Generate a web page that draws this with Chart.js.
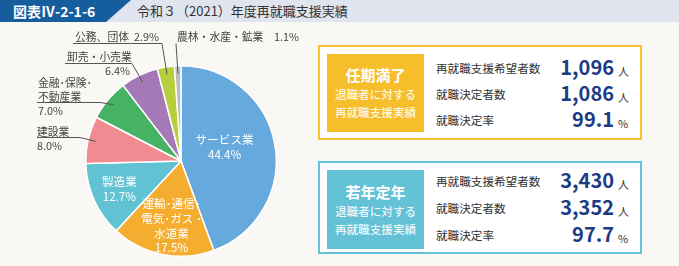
<!DOCTYPE html>
<html>
<head>
<meta charset="utf-8">
<script src="https://cdn.jsdelivr.net/npm/chart.js@4.4.1/dist/chart.umd.min.js"></script>
<style>
  body { margin: 0; background: #f9f8f4; font-family: "Noto Sans CJK JP", "Noto Sans", sans-serif; }
  #page { position: relative; width: 679px; height: 266px; overflow: hidden; background: #f9f8f4; }
  .band { position: absolute; left: 0; top: 0; width: 679px; height: 22px; background: #dfe4ef; }
  .tag { position: absolute; left: 0; top: 0; width: 131px; height: 22px; background: #155d9c;
         clip-path: polygon(0 0, 131px 0, 106px 22px, 0 22px); }
  .tag span { position: absolute; left: 13px; top: 2px; color: #fff; font-weight: bold; font-size: 14px; line-height: 18px; }
  .title { position: absolute; left: 137px; top: 2px; font-size: 13px; line-height: 18px; color: #333; }
  #pieWrap { position: absolute; left: 0; top: 24px; width: 310px; height: 242px; }
  .box { position: absolute; left: 318px; width: 320px; background: #fff; border: 2px solid; }
  .badge { position: absolute; left: 7px; top: 7px; width: 97px; color: #fff; text-align: center; }
  .badge b { display: block; font-size: 15px; line-height: 20px; }
  .badge div { font-size: 11.6px; line-height: 18px; }
  .row { position: absolute; left: 116px; width: 200px; height: 24px; }
  .row .lab { position: absolute; left: 0; top: 4px; font-size: 11.6px; line-height: 16px; color: #333; }
  .row .num { position: absolute; right: 22px; top: -1px; font-size: 20px; line-height: 24px; font-weight: bold; color: #1b3c84; }
  .row .unit { position: absolute; left: 182px; top: 7px; font-size: 11px; line-height: 16px; color: #333; }
</style>
</head>
<body>
<div id="page">
  <div class="band"></div>
  <div class="tag"><span>図表Ⅳ-2-1-6</span></div>
  <div class="title">令和３（2021）年度再就職支援実績</div>
  <div id="pieWrap"><canvas id="pie"></canvas></div>
  <div class="box" id="box1" style="top:45px;height:91px;border-color:#f7c232;"></div>
  <div class="box" id="box2" style="top:161px;height:89px;border-color:#62c3dc;"></div>
</div>
<script>
// 業種別 再就職先の割合 (%)
var categories = ['サービス業', '運輸・通信・電気・ガス・水道業', '製造業', '建設業',
                  '金融・保険・不動産業', '卸売・小売業', '公務、団体', '農林・水産・鉱業'];
var shares = [44.4, 17.5, 12.7, 8.0, 7.0, 6.4, 2.9, 1.1];
var colors = ['#66a9dc', '#f5ad2f', '#61c2d3', '#ef8b91', '#46b364', '#a579b6', '#b6d03c', '#b9bdbd'];

// how the names are broken into lines on the chart
var nameLines = [['サービス業'], ['運輸･通信･', '電気･ガス ･', '水道業'], ['製造業'], ['建設業'],
                 ['金融･保険･', '不動産業'], ['卸売・小売業'], ['公務、団体'], ['農林・水産・鉱業']];

// 再就職支援実績
var statLabels = ['再就職支援希望者数', '就職決定者数', '就職決定率'];
var statUnits = ['人', '人', '%'];
var retireStats = [1096, 1086, 99.1];   // 任期満了退職者
var youngStats = [3430, 3352, 97.7];    // 若年定年退職者

function fmt(v, i) {
    return i === 2 ? v.toFixed(1) : v.toLocaleString('en-US');
}

function buildBox(id, title, color, stats, badgeH, rowTops) {
    var box = document.getElementById(id);
    var html = '<div class="badge" style="height:' + badgeH + 'px;background:' + color + ';">' +
        '<div style="height:' + Math.round((badgeH - 56) / 2) + 'px"></div>' +
        '<b>' + title + '</b><div>退職者に対する</div><div>再就職支援実績</div></div>';
    for (var i = 0; i < stats.length; i++) {
        html += '<div class="row" style="top:' + rowTops[i] + 'px">' +
            '<span class="lab">' + statLabels[i] + '</span>' +
            '<span class="num">' + fmt(stats[i], i) + '</span>' +
            '<span class="unit">' + statUnits[i] + '</span></div>';
    }
    box.innerHTML = html;
}
buildBox('box1', '任期満了', '#f7be2c', retireStats, 78, [9, 35, 61]);
buildBox('box2', '若年定年', '#64c2d7', youngStats, 79, [6, 33, 60]);

// label placement for the pie (inside: [radial factor, angle nudge in deg]; outside: text + leader elbow)
var insideLabels = { 0: [0.48, -7.5], 1: [0.69, -3], 2: [0.71, 0] };
var outsideLabels = {
    3: { x: 37, y: 108, under: [37, 80], elbow: [80, 113], pct: 'below' },
    4: { x: 38, y: 59, under: [37, 100], elbow: [100, 78], pct: 'below' },
    5: { x: 67, y: 33, under: [65, 132], elbow: [132, 39], pct: 'belowRight' },
    6: { x: 75, y: 13, under: [73, 162], elbow: [162, 19], pct: 'inline' },
    7: { x: 177, y: 13, under: [176, 302], elbow: [176, 19], pct: 'inline' }
};

var labelPlugin = {
    id: 'pieLabels',
    afterDatasetsDraw: function (chart) {
        var ctx = chart.ctx;
        var arcs = chart.getDatasetMeta(0).data;
        ctx.save();
        ctx.textBaseline = 'middle';
        arcs.forEach(function (arc, i) {
            var p = arc.getProps(['x', 'y', 'startAngle', 'endAngle', 'outerRadius'], true);
            var mid = (p.startAngle + p.endAngle) / 2;
            var pct = shares[i].toFixed(1) + '%';
            if (insideLabels[i] !== undefined) {
                var r = p.outerRadius * insideLabels[i][0];
                var a = mid + insideLabels[i][1] * Math.PI / 180;
                var cx = p.x + Math.cos(a) * r, cy = p.y + Math.sin(a) * r;
                var lines = nameLines[i].concat([pct]);
                var lh = 14.7;
                ctx.fillStyle = '#fff';
                ctx.font = '11.6px "Noto Sans CJK JP"';
                ctx.textAlign = 'center';
                lines.forEach(function (t, k) {
                    ctx.fillText(t, cx, cy + (k - (lines.length - 1) / 2) * lh);
                });
                return;
            }
            var o = outsideLabels[i];
            ctx.fillStyle = '#444';
            ctx.font = '10.8px "Noto Sans CJK JP"';
            ctx.textAlign = 'left';
            var lh2 = 14;
            var n = nameLines[i].length;
            if (o.pct === 'inline') {
                ctx.fillText(nameLines[i][0], o.x, o.y);
                ctx.textAlign = 'right';
                ctx.fillText(pct, o.under[1] - 3, o.y);
            } else {
                nameLines[i].forEach(function (t, k) { ctx.fillText(t, o.x, o.y + k * lh2); });
                if (o.pct === 'belowRight') {
                    ctx.textAlign = 'right';
                    ctx.fillText(pct, o.under[1] - 2, o.y + n * lh2);
                } else {
                    ctx.fillText(pct, o.x, o.y + n * lh2);
                }
            }
            // underline + leader to the slice
            var uy = o.elbow[1];
            var er = p.outerRadius * 0.92;
            var ex = p.x + Math.cos(mid) * er, ey = p.y + Math.sin(mid) * er;
            ctx.strokeStyle = '#555';
            ctx.lineWidth = 1;
            ctx.beginPath();
            ctx.moveTo(o.under[0], uy + 0.5);
            ctx.lineTo(o.elbow[0], uy + 0.5);
            ctx.lineTo(ex, ey);
            ctx.stroke();
        });
        ctx.restore();
    }
};

new Chart(document.getElementById('pie').getContext('2d'), {
    type: 'pie',
    data: {
        labels: categories,
        datasets: [{
            data: shares,
            backgroundColor: colors,
            borderColor: '#fff',
            borderWidth: 1.5
        }]
    },
    options: {
        responsive: true,
        maintainAspectRatio: false,
        animation: false,
        layout: { padding: { left: 85, right: 33, top: 41, bottom: 9 } },
        plugins: { legend: { display: false }, tooltip: { enabled: false } }
    },
    plugins: [labelPlugin]
});
</script>
</body>
</html>
